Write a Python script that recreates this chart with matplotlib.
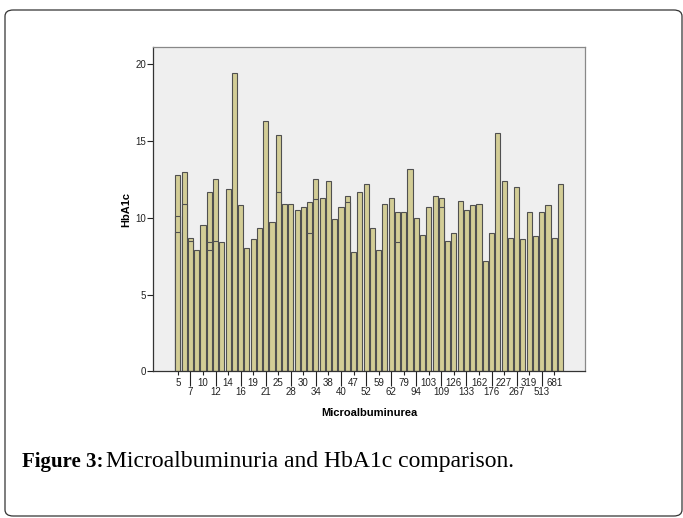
import numpy as np
import matplotlib
matplotlib.use("Agg")
import matplotlib.pyplot as plt
from matplotlib.patches import FancyBboxPatch

# HbA1c per Microalbuminurea category (one bar per category, 62 bars)
hba1c = [12.8, 13.0, 8.7, 7.9, 9.5, 11.7, 12.5, 8.4, 11.9, 19.4,
         10.8, 8.0, 8.6, 9.3, 16.3, 9.7, 15.4, 10.9, 10.9, 10.5,
         10.7, 11.0, 12.5, 11.3, 12.4, 9.9, 10.7, 11.4, 7.8, 11.7,
         12.2, 9.3, 7.9, 10.9, 11.3, 10.4, 10.4, 13.2, 10.0, 8.9,
         10.7, 11.4, 11.3, 8.5, 9.0, 11.1, 10.5, 10.8, 10.9, 7.2,
         9.0, 15.5, 12.4, 8.7, 12.0, 8.6, 10.4, 8.8, 10.4, 10.8,
         8.7, 12.2]

# other cases in the same category (drawn overlapping)
dup_pos = [0, 0, 1, 2, 5, 5, 6, 16, 21, 22, 27, 35, 42]
dup_vals = [10.1, 9.1, 10.9, 8.5, 8.4, 7.9, 8.5, 11.7, 9.0, 11.2, 11.0, 8.4, 10.7]

# labelled categories (every other bar)
top_labels = ['5', '10', '14', '19', '25', '30', '38', '47', '59', '79',
              '103', '126', '162', '227', '319', '681']
bottom_labels = ['7', '12', '16', '21', '28', '34', '40', '52', '62', '94',
                 '109', '133', '176', '267', '513']

bar_fill = '#d3cd96'
bar_edge = '#505050'

fig = plt.figure(figsize=(6.83, 5.18), dpi=100)
fig.patch.set_facecolor('white')

# rounded frame around the figure
frame = FancyBboxPatch((5 / 683, 2 / 518), 677 / 683, 506 / 518,
                       boxstyle='round,pad=0,rounding_size=0.012',
                       transform=fig.transFigure, fill=False,
                       edgecolor='#333333', linewidth=0.9)
fig.patches.append(frame)

ax = fig.add_axes([153 / 683, (518 - 371.3) / 518, 432 / 683, 324 / 518])
ax.set_facecolor('#efefef')

x = np.arange(len(hba1c))
ax.bar(x, hba1c, width=0.8, color=bar_fill, edgecolor=bar_edge, linewidth=0.8)
ax.bar(dup_pos, dup_vals, width=0.8, color=bar_fill, edgecolor=bar_edge, linewidth=0.8)

ax.set_xlim(-3.97, 64.9)
ax.set_ylim(0, 21.1)

ax.set_yticks([0, 5, 10, 15, 20])
ax.tick_params(axis='y', length=4, width=0.8, labelsize=7, pad=1, colors='#222222')

ax.set_xticks(np.arange(0, 62, 4))
ax.set_xticklabels(top_labels)
ax.set_xticks(np.arange(2, 62, 4), minor=True)
ax.set_xticklabels(bottom_labels, minor=True)
ax.tick_params(axis='x', which='major', length=3, width=0.8, labelsize=7, pad=2,
               colors='#222222')
ax.tick_params(axis='x', which='minor', length=11, width=0.8, labelsize=7, pad=0.5,
               colors='#222222')

for lab in ax.get_xticklabels() + ax.get_xticklabels(minor=True) + ax.get_yticklabels():
    lab.set_family('Liberation Sans')

for s in ['left', 'bottom']:
    ax.spines[s].set_color('#333333')
    ax.spines[s].set_linewidth(0.9)
for s in ['top', 'right']:
    ax.spines[s].set_color('#888888')
    ax.spines[s].set_linewidth(0.9)

ax.set_ylabel('HbA1c', fontsize=8, fontweight='bold', family='Liberation Sans', labelpad=3)
ax.set_xlabel('Microalbuminurea', fontsize=8, fontweight='bold', family='Liberation Sans',
              labelpad=8)

# caption
fig.text(22 / 683, 1 - 462 / 518, 'Figure 3:', fontsize=15, fontweight='bold',
         family='Liberation Serif', va='center', ha='left')
fig.text(106 / 683, 1 - 462 / 518, 'Microalbuminuria and HbA1c comparison.', fontsize=17,
         family='Liberation Serif', va='center', ha='left')

fig.savefig('out.png', dpi=100)
